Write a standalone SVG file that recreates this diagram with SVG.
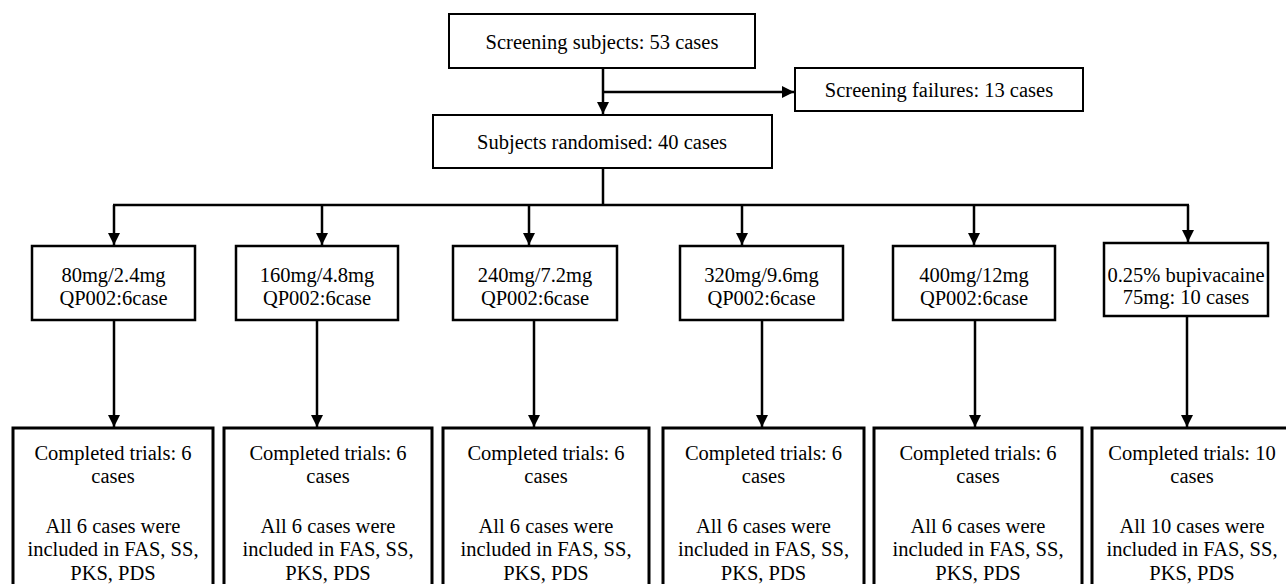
<svg xmlns="http://www.w3.org/2000/svg" width="1286" height="584" viewBox="0 0 1286 584" font-family="'Liberation Serif', 'Times New Roman', 'DejaVu Serif', serif">
<style>
text{font-family:'Liberation Serif','Times New Roman','DejaVu Serif',serif;font-size:20.5px;fill:#000;text-anchor:middle}
.top{fill:#fff;stroke:#000;stroke-width:2}
.mid{fill:#fff;stroke:#000;stroke-width:2.5}
.bot{fill:#fff;stroke:#000;stroke-width:3}
.c{fill:none;stroke:#000;stroke-width:2.5}
</style>
<defs>
<marker id="ah" markerUnits="userSpaceOnUse" markerWidth="12" markerHeight="14" refX="12" refY="6" orient="auto">
<path d="M0,0 L12,6 L0,12 Z" fill="#000"/>
</marker>
</defs>
<rect width="1286" height="584" fill="#fff"/>
<g id="connectors">
<line class="c" x1="603" y1="68" x2="603" y2="114" marker-end="url(#ah)"/>
<line class="c" x1="603" y1="92" x2="794" y2="92" marker-end="url(#ah)"/>
<line class="c" x1="603" y1="168" x2="603" y2="205"/>
<line class="c" x1="113" y1="205" x2="1189" y2="205"/>
<line class="c" x1="114" y1="205" x2="114" y2="245" marker-end="url(#ah)"/>
<line class="c" x1="322" y1="205" x2="322" y2="245" marker-end="url(#ah)"/>
<line class="c" x1="529" y1="205" x2="529" y2="245" marker-end="url(#ah)"/>
<line class="c" x1="742" y1="205" x2="742" y2="245" marker-end="url(#ah)"/>
<line class="c" x1="974" y1="205" x2="974" y2="245" marker-end="url(#ah)"/>
<line class="c" x1="1188" y1="205" x2="1188" y2="242" marker-end="url(#ah)"/>
<line class="c" x1="114" y1="320" x2="114" y2="427" marker-end="url(#ah)"/>
<line class="c" x1="317" y1="320" x2="317" y2="427" marker-end="url(#ah)"/>
<line class="c" x1="534" y1="320" x2="534" y2="427" marker-end="url(#ah)"/>
<line class="c" x1="762" y1="320" x2="762" y2="427" marker-end="url(#ah)"/>
<line class="c" x1="975" y1="320" x2="975" y2="427" marker-end="url(#ah)"/>
<line class="c" x1="1187" y1="316" x2="1187" y2="427" marker-end="url(#ah)"/>
</g>
<g id="screening">
<rect class="top" x="449" y="14" width="306" height="54"/>
<text x="602" y="49">Screening subjects: 53 cases</text>
</g>
<g id="failures">
<rect class="top" x="795" y="68" width="288" height="43"/>
<text x="939" y="97">Screening failures: 13 cases</text>
</g>
<g id="randomised">
<rect class="top" x="433" y="115" width="339" height="53"/>
<text x="602" y="149">Subjects randomised: 40 cases</text>
</g>
<g id="g1">
<rect class="mid" x="32" y="246" width="163" height="74"/>
<text x="113.5" y="282">80mg/2.4mg</text>
<text x="113.5" y="305">QP002:6case</text>
</g>
<g id="g2">
<rect class="mid" x="236" y="246" width="162" height="74"/>
<text x="317" y="282">160mg/4.8mg</text>
<text x="317" y="305">QP002:6case</text>
</g>
<g id="g3">
<rect class="mid" x="453" y="246" width="164" height="74"/>
<text x="535" y="282">240mg/7.2mg</text>
<text x="535" y="305">QP002:6case</text>
</g>
<g id="g4">
<rect class="mid" x="680" y="246" width="163" height="74"/>
<text x="761.5" y="282">320mg/9.6mg</text>
<text x="761.5" y="305">QP002:6case</text>
</g>
<g id="g5">
<rect class="mid" x="893" y="246" width="162" height="74"/>
<text x="974" y="282">400mg/12mg</text>
<text x="974" y="305">QP002:6case</text>
</g>
<g id="g6">
<rect class="mid" x="1104" y="243" width="164" height="73"/>
<text x="1186" y="282">0.25% bupivacaine</text>
<text x="1186" y="304">75mg: 10 cases</text>
</g>
<g id="c1">
<rect class="bot" x="13" y="428" width="200" height="180"/>
<text x="113" y="460">Completed trials: 6</text>
<text x="113" y="483">cases</text>
<text x="113" y="533">All 6 cases were</text>
<text x="113" y="556">included in FAS, SS,</text>
<text x="113" y="580">PKS, PDS</text>
</g>
<g id="c2">
<rect class="bot" x="224" y="428" width="208" height="180"/>
<text x="328" y="460">Completed trials: 6</text>
<text x="328" y="483">cases</text>
<text x="328" y="533">All 6 cases were</text>
<text x="328" y="556">included in FAS, SS,</text>
<text x="328" y="580">PKS, PDS</text>
</g>
<g id="c3">
<rect class="bot" x="443" y="428" width="206" height="180"/>
<text x="546" y="460">Completed trials: 6</text>
<text x="546" y="483">cases</text>
<text x="546" y="533">All 6 cases were</text>
<text x="546" y="556">included in FAS, SS,</text>
<text x="546" y="580">PKS, PDS</text>
</g>
<g id="c4">
<rect class="bot" x="663" y="428" width="201" height="180"/>
<text x="763.5" y="460">Completed trials: 6</text>
<text x="763.5" y="483">cases</text>
<text x="763.5" y="533">All 6 cases were</text>
<text x="763.5" y="556">included in FAS, SS,</text>
<text x="763.5" y="580">PKS, PDS</text>
</g>
<g id="c5">
<rect class="bot" x="874" y="428" width="208" height="180"/>
<text x="978" y="460">Completed trials: 6</text>
<text x="978" y="483">cases</text>
<text x="978" y="533">All 6 cases were</text>
<text x="978" y="556">included in FAS, SS,</text>
<text x="978" y="580">PKS, PDS</text>
</g>
<g id="c6">
<rect class="bot" x="1092" y="428" width="200" height="180"/>
<text x="1192" y="460">Completed trials: 10</text>
<text x="1192" y="483">cases</text>
<text x="1192" y="533">All 10 cases were</text>
<text x="1192" y="556">included in FAS, SS,</text>
<text x="1192" y="580">PKS, PDS</text>
</g>
</svg>
